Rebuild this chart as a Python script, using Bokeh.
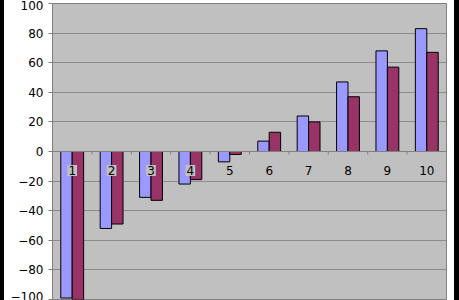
from bokeh.plotting import figure
from bokeh.models import Range1d, FixedTicker, Spacer, ColumnDataSource
from bokeh.layouts import row
from bokeh.core.properties import value
from bokeh.embed import file_html
from bokeh.resources import INLINE

categories = [1, 2, 3, 4, 5, 6, 7, 8, 9, 10]
series_a = [-99, -52, -31, -22, -7, 7, 24, 47, 68, 83]
series_b = [-100, -49, -33, -19, -2, 13, 20, 37, 57, 67]
y_ticks = [-100, -80, -60, -40, -20, 0, 20, 40, 60, 80, 100]

p = figure(width=450, height=300, output_backend="svg", toolbar_location=None,
           x_range=Range1d(0.5, 10.5), y_range=Range1d(-100, 100),
           min_border_left=48, min_border_right=8, min_border_top=3, min_border_bottom=1)
p.background_fill_color = "#c0c0c0"
p.border_fill_color = "white"
p.outline_line_color = "#808080"
p.xaxis.visible = False
p.xgrid.visible = False
p.ygrid.grid_line_color = "#8c8c8c"
p.ygrid.grid_line_width = 1
p.yaxis.ticker = FixedTicker(ticks=y_ticks)
p.yaxis.axis_line_color = "#808080"
p.yaxis.major_tick_line_color = "#808080"
p.yaxis.major_tick_out = 4
p.yaxis.major_tick_in = 0
p.yaxis.minor_tick_line_color = None
p.yaxis.major_label_text_font = "DejaVu Sans"
p.yaxis.major_label_text_font_size = "12px"
p.yaxis.major_label_text_color = "black"
p.yaxis.major_label_standoff = 5

src = ColumnDataSource(dict(
    xa=[c - 0.145 for c in categories],
    xb=[c + 0.145 for c in categories],
    a=series_a, b=series_b,
))
p.vbar(x="xa", top="a", bottom=0, width=0.29, source=src,
       fill_color="#9999ff", line_color="black", line_width=1)
p.vbar(x="xb", top="b", bottom=0, width=0.29, source=src,
       fill_color="#993366", line_color="black", line_width=1)

# category axis at zero
bounds = [c - 0.5 for c in categories] + [categories[-1] + 0.5]
p.segment(x0=bounds, y0=[0] * len(bounds), x1=bounds, y1=[-2] * len(bounds),
          line_color="#808080", line_width=1)
p.segment(x0=[0.5], y0=[0], x1=[10.5], y1=[0], line_color="#808080", line_width=1)

p.text(x=categories, y=[0] * len(categories), text=[str(c) for c in categories],
       text_font=value("DejaVu Sans"), text_font_size="12px", text_color="black",
       text_align="center", text_baseline="middle", y_offset=19,
       background_fill_color="#c0c0c0", padding=1)

left = Spacer(width=4, height=300, styles={"background-color": "black"})
right = Spacer(width=5, height=300, styles={"background-color": "black"})
layout = row(left, p, right, spacing=0)

open("out.html", "w").write(file_html(layout, INLINE))
